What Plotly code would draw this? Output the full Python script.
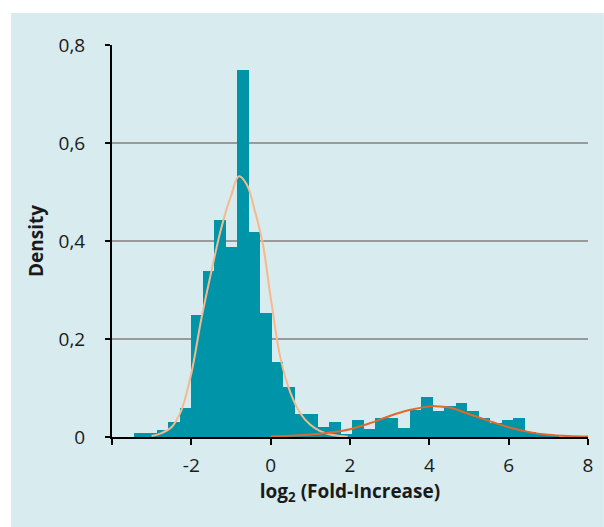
import plotly.graph_objects as go

# ---- data ----
bin_start = -3.45
bin_width = 0.29
densities = [0.008, 0.008, 0.015, 0.031, 0.060, 0.249, 0.339, 0.443, 0.388, 0.749,
             0.419, 0.253, 0.153, 0.103, 0.046, 0.046, 0.021, 0.031, 0.006, 0.034,
             0.016, 0.038, 0.038, 0.018, 0.055, 0.081, 0.053, 0.063, 0.069, 0.053,
             0.039, 0.029, 0.034, 0.038, 0.010, 0.007, 0.004]

fit1_x = [-3.0, -2.75, -2.5, -2.25, -2.0, -1.75, -1.5, -1.25, -1.0, -0.8, -0.6,
          -0.4, -0.2, 0.0, 0.25, 0.5, 0.75, 1.0, 1.25, 1.5, 1.75, 1.95]
fit1_y = [0.002, 0.008, 0.020, 0.055, 0.130, 0.240, 0.336, 0.425, 0.492, 0.532, 0.515,
          0.462, 0.395, 0.285, 0.160, 0.090, 0.048, 0.025, 0.012, 0.005, 0.002, 0.0005]

fit2_x = [0.0, 0.5, 1.0, 1.5, 2.0, 2.5, 3.0, 3.5, 4.0, 4.15, 4.5, 5.0, 5.5, 6.0,
          6.5, 7.0, 7.5, 8.0]
fit2_y = [0.0015, 0.0025, 0.005, 0.009, 0.016, 0.028, 0.043, 0.055, 0.0625, 0.063,
          0.060, 0.047, 0.033, 0.020, 0.0105, 0.0045, 0.0018, 0.0008]

x_tickvals = [-2, 0, 2, 4, 6, 8]
x_ticktext = ["-2", "0", "2", "4", "6", "8"]
x_minor_ticks = [-4]
y_tickvals = [0, 0.2, 0.4, 0.6, 0.8]
y_ticktext = ["0", "0,2", "0,4", "0,6", "0,8"]

bin_centers = [bin_start + bin_width * (i + 0.5) for i in range(len(densities))]

FONT = "'Open Sans', Lato, sans-serif"
W, H = 604, 527
L, R, T, B = 112, 11, 45, 90
pw, ph = W - L - R, H - T - B

fig = go.Figure()
fig.add_trace(go.Bar(x=bin_centers, y=densities, width=bin_width,
                     marker=dict(color="#0094A9", line=dict(width=0)),
                     hoverinfo="x+y", showlegend=False))
fig.add_trace(go.Scatter(x=fit1_x, y=fit1_y, mode="lines",
                         line=dict(color="#F7B98C", width=2, shape="spline"),
                         showlegend=False))
fig.add_trace(go.Scatter(x=fit2_x, y=fit2_y, mode="lines",
                         line=dict(color="#E0692B", width=2, shape="spline"),
                         showlegend=False))

# light-blue panel (white strip at top and left)
fig.add_shape(type="rect", xref="paper", yref="paper", layer="below",
              x0=(10 - L) / pw, x1=(W + 5 - L) / pw,
              y0=-(B + 5) / ph, y1=(T + ph - 13) / ph,
              fillcolor="#D8EBEF", line=dict(width=0))

fig.update_layout(
    width=W, height=H,
    margin=dict(l=L, r=R, t=T, b=B),
    paper_bgcolor="white",
    plot_bgcolor="rgba(0,0,0,0)",
    font=dict(family=FONT, size=19, color="#1a1a1a"),
    bargap=0,
    xaxis=dict(range=[-4, 8], tickvals=x_tickvals, ticktext=x_ticktext,
               showgrid=False, zeroline=False,
               showline=True, linecolor="black", linewidth=2,
               ticks="outside", ticklen=6, tickwidth=2, tickcolor="black",
               minor=dict(tickmode="array", tickvals=x_minor_ticks, ticks="outside",
                          ticklen=6, tickwidth=2, tickcolor="black", showgrid=False),
               ticklabelstandoff=4,
               tickfont=dict(size=19, family=FONT),
               title=dict(text="<b>log<sub>2</sub> (Fold-Increase)</b>",
                          font=dict(size=19, family=FONT), standoff=6)),
    yaxis=dict(range=[0, 0.8], tickvals=y_tickvals, ticktext=y_ticktext,
               showgrid=True, gridcolor="#9A9A9A", gridwidth=2, zeroline=False,
               showline=True, linecolor="black", linewidth=2,
               ticks="outside", ticklen=5, tickwidth=1.5, tickcolor="black",
               ticklabelstandoff=16,
               tickfont=dict(size=19, family=FONT),
               title=dict(text="<b>Density</b>", font=dict(size=19, family=FONT),
                          standoff=10)),
)

fig.write_html("out.html")
